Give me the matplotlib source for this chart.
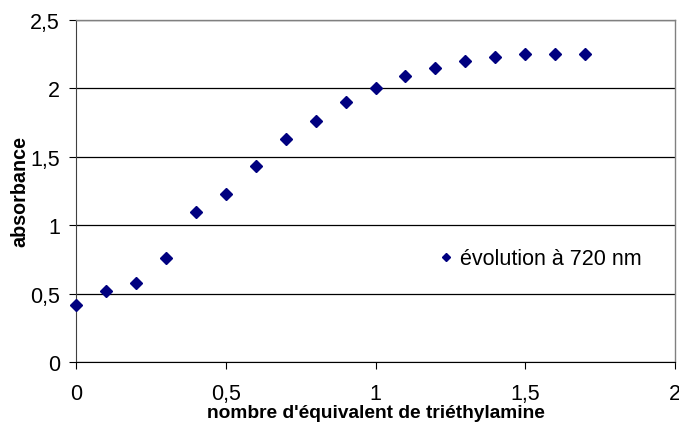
import matplotlib
matplotlib.use("Agg")
import matplotlib.pyplot as plt

plt.rcParams['font.family'] = ['Liberation Sans', 'DejaVu Sans']

equivalents = [0.0, 0.1, 0.2, 0.3, 0.4, 0.5, 0.6, 0.7, 0.8, 0.9,
               1.0, 1.1, 1.2, 1.3, 1.4, 1.5, 1.6, 1.7]
absorbance = [0.42, 0.52, 0.58, 0.76, 1.10, 1.23, 1.43, 1.63, 1.76, 1.90,
              2.00, 2.09, 2.15, 2.20, 2.23, 2.25, 2.25, 2.25]
xticks = [0, 0.5, 1, 1.5, 2]
xticklabels = ['0', '0,5', '1', '1,5', '2']
yticks = [0, 0.5, 1, 1.5, 2, 2.5]
yticklabels = ['0', '0,5', '1', '1,5', '2', '2,5']
series_label = 'évolution à 720 nm'
xlabel = "nombre d'équivalent de triéthylamine"
ylabel = 'absorbance'

fig = plt.figure(figsize=(6.79, 4.27), dpi=100)
ax = fig.add_axes([76/679, 1 - 363/427, (675-76)/679, (363-21)/427])

ax.plot(equivalents, absorbance, linestyle='none', marker='D', markersize=6.5,
        color='#000080', label=series_label, zorder=3, clip_on=False)

ax.set_xlim(0, 2)
ax.set_ylim(0, 2.5)
ax.set_xticks(xticks)
ax.set_xticklabels(xticklabels)
ax.set_yticks(yticks)
ax.set_yticklabels(yticklabels)
ax.yaxis.grid(True, color='black', linewidth=0.9)
ax.set_axisbelow(True)

for side in ['top', 'right']:
    ax.spines[side].set_color('#808080')
    ax.spines[side].set_linewidth(1.0)
ax.spines['left'].set_color('#404040')
ax.spines['bottom'].set_color('black')
ax.tick_params(axis='x', direction='out', length=5, pad=10, labelsize=15.5, colors='black')
ax.tick_params(axis='y', direction='out', length=5, pad=6.5, labelsize=15.5, colors='black')

ax.set_xlabel(xlabel, fontsize=13.8, fontweight='bold', labelpad=0)
ax.set_ylabel(ylabel, fontsize=14.2, fontweight='bold', labelpad=0.5)

leg = ax.legend(loc='center left', bbox_to_anchor=((441-76)/599, 1 - (260-21)/342),
                frameon=False, fontsize=15.5, markerscale=0.6, handlelength=0.5,
                handletextpad=0.4, borderpad=0, borderaxespad=0)

fig.savefig('out.png', dpi=100)
